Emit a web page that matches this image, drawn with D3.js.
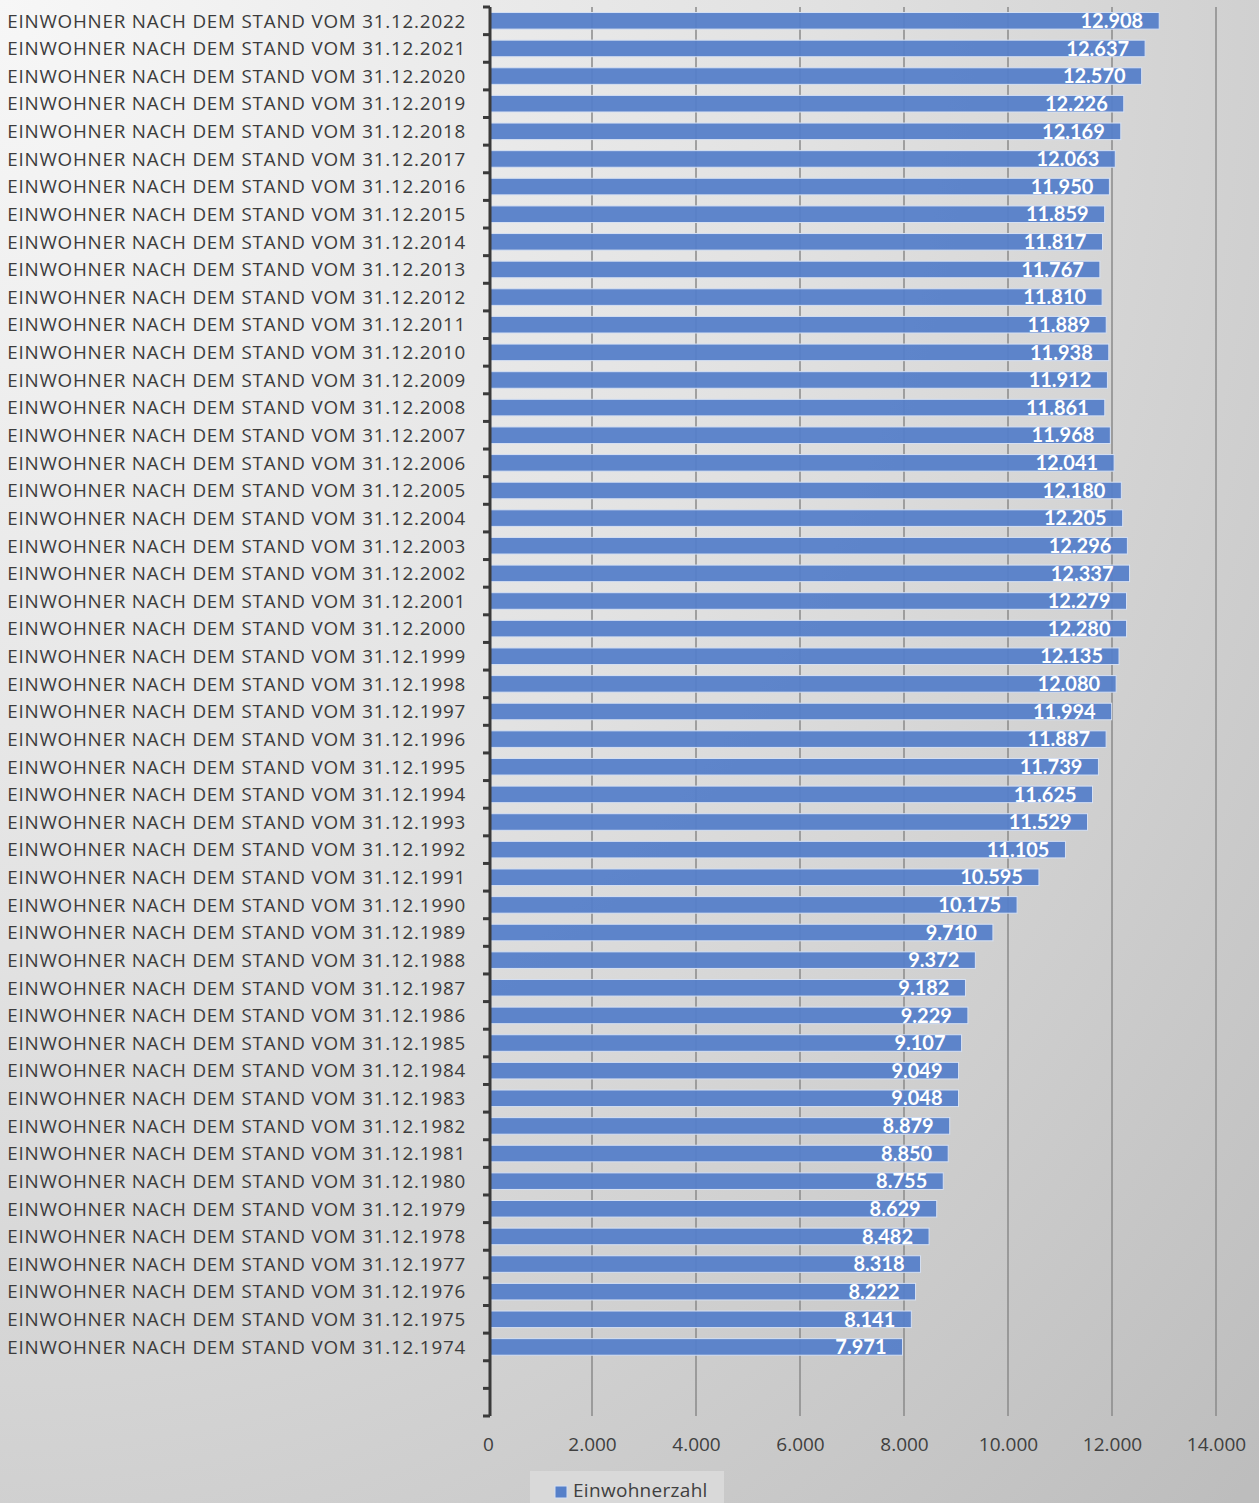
<!DOCTYPE html>
<html>
<head>
<meta charset="utf-8">
<script src="https://cdnjs.cloudflare.com/ajax/libs/d3/7.8.5/d3.min.js"></script>
<style>
  body { margin: 0; overflow: hidden; }
  svg { display: block; }
</style>
</head>
<body>
<svg width="1259" height="1503"></svg>
<script>
// years, newest first (as shown top to bottom)
const years = [2022, 2021, 2020, 2019, 2018, 2017, 2016, 2015, 2014, 2013, 2012, 2011, 2010,
  2009, 2008, 2007, 2006, 2005, 2004, 2003, 2002, 2001, 2000, 1999, 1998, 1997, 1996, 1995,
  1994, 1993, 1992, 1991, 1990, 1989, 1988, 1987, 1986, 1985, 1984, 1983, 1982, 1981, 1980,
  1979, 1978, 1977, 1976, 1975, 1974];
const einwohner = [12908, 12637, 12570, 12226, 12169, 12063, 11950, 11859, 11817, 11767, 11810,
  11889, 11938, 11912, 11861, 11968, 12041, 12180, 12205, 12296, 12337, 12279, 12280, 12135,
  12080, 11994, 11887, 11739, 11625, 11529, 11105, 10595, 10175, 9710, 9372, 9182, 9229, 9107,
  9049, 9048, 8879, 8850, 8755, 8629, 8482, 8318, 8222, 8141, 7971];
const xTicks = [0, 2000, 4000, 6000, 8000, 10000, 12000, 14000];
const emptyCats = ["leer1", "leer2"];   // two blank rows at the bottom
const seriesName = "Einwohnerzahl";

const data = years.map((y, i) => ({cat: "EINWOHNER NACH DEM STAND VOM 31.12." + y, v: einwohner[i]}));

const de = d3.formatLocale({decimal: ",", thousands: ".", grouping: [3], currency: ["", "€"]});
const fmt = de.format(",.0f");

const svg = d3.select("svg");
const W = 1259, H = 1503;

// background gradient
const defs = svg.append("defs");
const grad = defs.append("radialGradient").attr("id", "bg")
  .attr("cx", "0%").attr("cy", "0%").attr("r", "140%");
grad.append("stop").attr("offset", "0%").attr("stop-color", "#f7f7f7");
grad.append("stop").attr("offset", "45%").attr("stop-color", "#e2e2e2");
grad.append("stop").attr("offset", "100%").attr("stop-color", "#bdbdbd");
svg.append("rect").attr("width", W).attr("height", H).attr("fill", "url(#bg)");

const plotLeft = 490, plotTop = 7, plotBottom = 1416;
const x = d3.scaleLinear().domain([0, 14000]).range([plotLeft - 2, 1216]);
const y = d3.scaleBand()
  .domain(data.map(d => d.cat).concat(emptyCats))
  .range([plotTop, plotBottom])
  .paddingInner(0.4).paddingOuter(0.2);

const g = svg.append("g");

// vertical gridlines
g.selectAll(".grid").data(xTicks.slice(1)).enter().append("line")
  .attr("x1", d => x(d)).attr("x2", d => x(d))
  .attr("y1", plotTop).attr("y2", plotBottom)
  .attr("stroke", "#8a8a8a").attr("stroke-width", 1.5);

// bars
g.selectAll(".bar").data(data).enter().append("rect")
  .attr("x", x(0) + 2)
  .attr("y", d => y(d.cat))
  .attr("width", d => x(d.v) - x(0) - 2)
  .attr("height", y.bandwidth())
  .attr("fill", "#5680c9")
  .attr("fill-opacity", 0.95)
  .attr("stroke", "#d6e0f2")
  .attr("stroke-width", 1);

// data labels
g.selectAll(".lbl").data(data).enter().append("text")
  .attr("x", d => x(d.v) - 16)
  .attr("y", d => y(d.cat) + y.bandwidth() / 2)
  .attr("dy", "0.36em")
  .attr("text-anchor", "end")
  .attr("font-family", "Lato, 'Open Sans', sans-serif")
  .attr("font-weight", "bold")
  .attr("font-size", 20)
  .attr("fill", "#ffffff")
  .text(d => fmt(d.v));

// y axis with ticks at band edges
const yAxisG = svg.append("g");
yAxisG.append("line")
  .attr("x1", plotLeft).attr("x2", plotLeft).attr("y1", plotTop).attr("y2", plotBottom)
  .attr("stroke", "#3a3a3a").attr("stroke-width", 3);
const edges = y.domain().map(c => y(c) - y.step() * y.paddingInner() / 2).concat([plotBottom]);
yAxisG.selectAll(".tk").data(edges).enter().append("line")
  .attr("x1", plotLeft - 7).attr("x2", plotLeft)
  .attr("y1", d => d).attr("y2", d => d)
  .attr("stroke", "#3a3a3a").attr("stroke-width", 3);

// category labels
svg.append("g").selectAll("text").data(data).enter().append("text")
  .attr("x", 466)
  .attr("y", d => y(d.cat) + y.bandwidth() / 2)
  .attr("dy", "0.36em")
  .attr("text-anchor", "end")
  .attr("font-family", "'Open Sans', sans-serif")
  .attr("font-size", 18.8)
  .attr("letter-spacing", 0.8)
  .attr("fill", "#3c3c3c")
  .text(d => d.cat);

// x axis labels
const xAxis = d3.axisBottom(x).tickValues(xTicks).tickSize(0).tickPadding(0)
  .tickFormat(d => fmt(d));
const xg = svg.append("g").attr("transform", `translate(0,${plotBottom + 21})`).call(xAxis);
xg.select(".domain").remove();
xg.selectAll("text")
  .attr("font-family", "'Open Sans', sans-serif")
  .attr("font-size", 19)
  .attr("fill", "#404040");

// legend
const leg = svg.append("g");
leg.append("rect").attr("x", 530).attr("y", 1471).attr("width", 194).attr("height", 40)
  .attr("fill", "#d9d9d9");
leg.append("rect").attr("x", 555).attr("y", 1486).attr("width", 12).attr("height", 12)
  .attr("fill", "#5680c9").attr("stroke", "#d6e0f2");
leg.append("text").attr("x", 573).attr("y", 1491).attr("dy", "0.34em")
  .attr("font-family", "'Open Sans', sans-serif").attr("font-size", 19)
  .attr("letter-spacing", 0.3)
  .attr("fill", "#404040").text(seriesName);
</script>
</body>
</html>
